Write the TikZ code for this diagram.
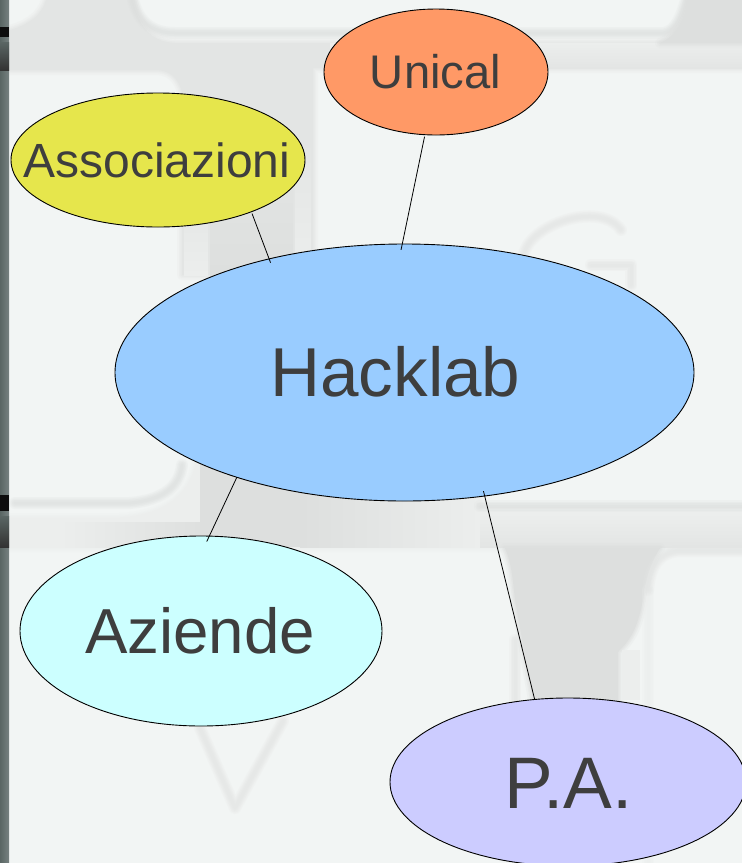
\documentclass[tikz,border=0pt]{standalone}
\usepackage{fontspec}
\setmainfont{Liberation Sans}
\usetikzlibrary{shapes.geometric}
\definecolor{keybg}{HTML}{F2F5F4}
\definecolor{gapa}{HTML}{E3E5E4}
\definecolor{gapb}{HTML}{DDDFDE}
\definecolor{gapc}{HTML}{ECEEED}
\definecolor{stripa}{HTML}{5A6664}
\definecolor{stripb}{HTML}{768180}
\definecolor{inktext}{HTML}{3E3E3E}
\definecolor{cassoc}{HTML}{E6E64C}
\definecolor{cunical}{HTML}{FF9966}
\definecolor{chack}{HTML}{99CCFF}
\definecolor{cazi}{HTML}{CCFFFF}
\definecolor{cpa}{HTML}{CCCCFF}
% size, dx, baseline drop, text: zero-sized label so that the ellipse keeps its given size
\newcommand{\ovaltext}[4]{\makebox[0pt]{\kern #2pt\raisebox{-#3pt}[0pt][0pt]{\fontsize{#1pt}{#1pt}\selectfont #4}}}
\newcommand{\softline}[2][gapb]{%
  \foreach \w/\o in {12/.2,9/.25,6/.3,3/.35}{\draw[#1,line width=\w pt,opacity=\o,line cap=round,line join=round] #2;}}
\newcommand{\softfill}[2][gapa]{%
  \foreach \w/\o in {10/.2,6/.3,3/.4}{\draw[#1,line width=\w pt,opacity=\o,line join=round] #2;}
  \fill[#1] #2;}
\tikzset{
  oval/.style={ellipse,draw=black,line width=.9pt,inner sep=0pt,outer sep=0pt,text=inktext},
  link/.style={draw=black,line width=.8pt},
}
\begin{document}
\begin{tikzpicture}[x=1pt,y=-1pt]
\useasboundingbox (0,0) rectangle (742,863);
\begin{scope}
\clip (0,0) rectangle (742,863);
\fill[keybg] (0,0) rectangle (742,863);
% upper gap between the key rows, with the vertical gap of the second row
\softfill[gapa]{(10,30) .. controls (28,25) and (42,15) .. (46,0) -- (133,0) .. controls (138,25) and (150,42) .. (175,43)
  -- (742,43) -- (742,68) -- (313,68) -- (313,275) -- (182,275) -- (182,92) .. controls (178,78) and (170,70) .. (155,70) -- (10,70) -- cycle}
\fill[top color=gapc,bottom color=gapa] (330,43) rectangle (742,68);
\softfill[gapb]{(688,0) .. controls (684,22) and (676,36) .. (660,43) -- (742,43) -- (742,0) -- cycle}
% inside of the vertical gap
\fill[top color=gapa,bottom color=gapb] (210,150) rectangle (293,275);
\fill[top color=gapa,bottom color=gapc] (184,190) rectangle (208,275);
\fill[top color=gapa,bottom color=gapc] (295,140) rectangle (311,275);
% lower gap between the key rows
\softfill[gapc]{(10,518) -- (120,518) .. controls (165,515) and (195,495) .. (198,450) -- (480,450) -- (480,512) -- (742,512) -- (742,547) -- (10,547) -- cycle}
\fill[left color=gapc,right color=gapb] (60,522) rectangle (210,547);
\fill[gapb] (200,455) rectangle (300,547);
\fill[left color=gapb,right color=gapc] (300,460) rectangle (480,547);
\fill[top color=gapc,bottom color=gapa] (480,514) rectangle (742,547);
% funnel in the third row
\softfill[gapb]{(505,548) .. controls (510,560) and (512,570) .. (515,600) -- (533,700) -- (618,700) -- (618,652) .. controls (630,640) and (637,630) .. (643,600) .. controls (646,575) and (650,565) .. (660,548) -- cycle}
\fill[gapc] (622,650) rectangle (640,700);
% soft key edges and the letters printed on the keys
\softline{(133,0) .. controls (138,20) and (150,33) .. (175,33) -- (664,33) .. controls (676,31) and (682,15) .. (686,0)}
\softline{(15,503) -- (130,503) .. controls (165,500) and (180,485) .. (182,465)}
\softline{(480,506) -- (742,506)}
\softline[gapa]{(515,640) -- (515,700)}
\softline[gapc]{(648,590) -- (648,863)}
\softline[gapa]{(648,590) .. controls (650,565) and (660,552) .. (680,551) -- (742,551)}
\softline[gapa]{(524,255) .. controls (528,225) and (600,200) .. (621,230)}
\softline[gapa]{(591,265) -- (631,265) -- (631,285)}
\softline[gapa]{(200,728) -- (235,808) -- (283,721)}
% dark strip at the left edge
\fill[left color=stripa,right color=stripb] (0,0) rectangle (9,863);
\fill[black!95] (0,27) rectangle (9,37);
\fill[top color=stripa,bottom color=black!80] (0,42) rectangle (9,70);
\fill[black!95] (0,495) rectangle (9,511);
\fill[top color=stripa,bottom color=black!80] (0,516) rectangle (9,547);
\end{scope}
\node[oval,fill=cassoc,minimum width=294pt,minimum height=134pt] (assoc) at (158,160) {\ovaltext{48}{-2}{17}{Associazioni}};
\node[oval,fill=cunical,minimum width=224pt,minimum height=126pt] (unical) at (436,72) {\ovaltext{47.2}{-1}{16.5}{Unical}};
\node[oval,fill=chack,minimum width=579pt,minimum height=257pt] (hack) at (404.5,372.5) {\ovaltext{69.2}{-18}{24}{Hacklab}};
\node[oval,fill=cazi,minimum width=362pt,minimum height=190pt] (azi) at (201,631) {\ovaltext{63.6}{-2}{22}{Aziende}};
\node[oval,fill=cpa,minimum width=356pt,minimum height=168pt] (pa) at (568,782) {\ovaltext{73}{1}{26}{P.A.}};
\draw[link,shorten <=2pt,shorten >=-4pt] (assoc.-29.4) -- (hack.140.6);
\draw[link,shorten <=2pt,shorten >=-6pt] (unical.-100.5) -- (hack.91.1);
\draw[link,shorten >=-6pt] (hack.-148.3) -- (azi.85.2);
\draw[link,shorten <=-5pt] (hack.-57.9) -- (pa.112.3);
\end{tikzpicture}
\end{document}
